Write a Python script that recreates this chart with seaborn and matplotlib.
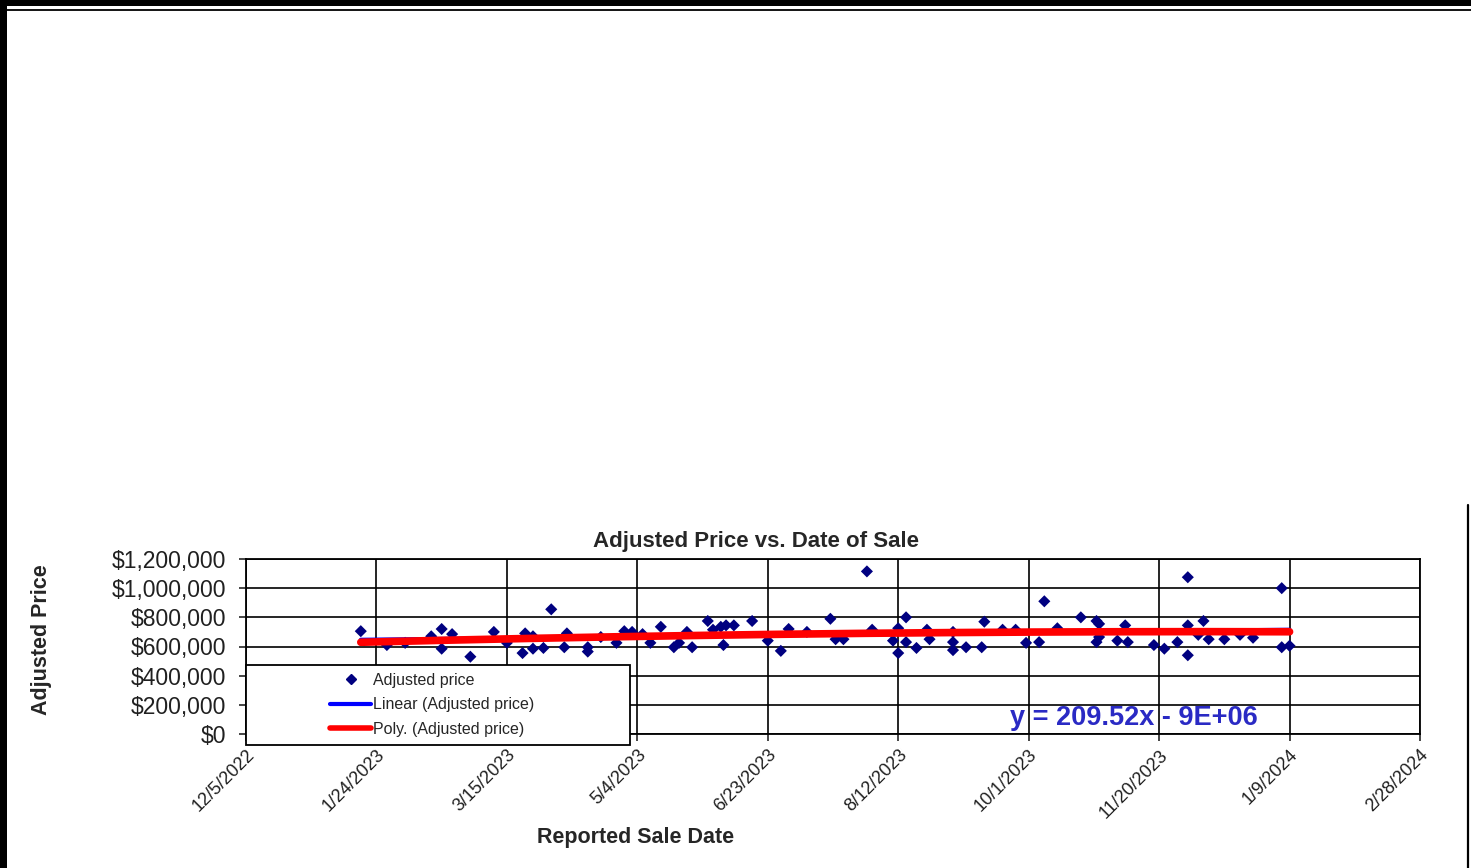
import numpy as np
import pandas as pd
import seaborn as sns
import matplotlib.pyplot as plt
import matplotlib.dates as mdates
from matplotlib.patches import Rectangle
from matplotlib.lines import Line2D
from matplotlib.ticker import FuncFormatter

# sale date / adjusted price
sale_dates = ['2023-01-18', '2023-01-28', '2023-02-04', '2023-02-14', '2023-02-18',
              '2023-02-18', '2023-02-22', '2023-03-01', '2023-03-10', '2023-03-15',
              '2023-03-21', '2023-03-22', '2023-03-25', '2023-03-25', '2023-03-29',
              '2023-04-01', '2023-04-07', '2023-04-06', '2023-04-15', '2023-04-15',
              '2023-04-20', '2023-04-26', '2023-04-29', '2023-05-02', '2023-05-06',
              '2023-05-09', '2023-05-13', '2023-05-18', '2023-05-20', '2023-05-23',
              '2023-05-25', '2023-05-31', '2023-06-02', '2023-06-05', '2023-06-06',
              '2023-06-07', '2023-06-10', '2023-06-17', '2023-06-23', '2023-06-28',
              '2023-07-01', '2023-07-08', '2023-07-17', '2023-07-19', '2023-07-22',
              '2023-07-31', '2023-08-02', '2023-08-10', '2023-08-12', '2023-08-12',
              '2023-08-15', '2023-08-15', '2023-08-19', '2023-08-23', '2023-08-24',
              '2023-09-02', '2023-09-02', '2023-09-02', '2023-09-07', '2023-09-13',
              '2023-09-14', '2023-09-21', '2023-09-26', '2023-09-30', '2023-10-05',
              '2023-10-07', '2023-10-12', '2023-10-21', '2023-10-27', '2023-10-28',
              '2023-10-27', '2023-10-28', '2023-11-04', '2023-11-07', '2023-11-08',
              '2023-11-18', '2023-11-22', '2023-11-27', '2023-12-01', '2023-12-01',
              '2023-12-01', '2023-12-05', '2023-12-07', '2023-12-09', '2023-12-15',
              '2023-12-21', '2023-12-26', '2024-01-06', '2024-01-06', '2024-01-09']

adjusted_prices = [705000, 610000, 625000, 670000, 720000,
                   585000, 685000, 530000, 700000, 625000,
                   555000, 690000, 670000, 585000, 590000,
                   855000, 690000, 595000, 595000, 565000,
                   665000, 625000, 705000, 700000, 685000,
                   625000, 735000, 595000, 625000, 700000,
                   595000, 775000, 715000, 735000, 610000,
                   745000, 745000, 775000, 640000, 570000,
                   720000, 700000, 790000, 650000, 650000,
                   1115000, 715000, 640000, 725000, 555000,
                   800000, 630000, 590000, 715000, 650000,
                   700000, 630000, 575000, 595000, 595000,
                   770000, 715000, 715000, 625000, 630000,
                   910000, 725000, 800000, 775000, 755000,
                   630000, 665000, 640000, 745000, 630000,
                   610000, 585000, 630000, 1075000, 745000,
                   540000, 680000, 775000, 650000, 650000,
                   680000, 660000, 1000000, 595000, 605000]

tick_dates = pd.date_range('2022-12-05', periods=10, freq='50D')
price_ticks = [0, 200000, 400000, 600000, 800000, 1000000, 1200000]
equation_text = 'y = 209.52x - 9E+06'

df = pd.DataFrame({'date': pd.to_datetime(sale_dates), 'price': adjusted_prices})

sns.set_style('white')
plt.rcParams['font.family'] = ['Liberation Sans', 'DejaVu Sans']

W, H = 1471, 868
fig = plt.figure(figsize=(W / 100, H / 100), dpi=100)
ax = fig.add_axes([246 / W, 134 / H, 1174 / W, 175 / H])

# trend lines (linear and 2nd order poly) fitted on the points
xnum = mdates.date2num(df['date'])
xs = np.linspace(xnum.min(), xnum.max(), 200)
lin = np.polyval(np.polyfit(xnum, df['price'], 1), xs)
poly = np.polyval(np.polyfit(xnum, df['price'], 2), xs)

sns.scatterplot(data=df, x='date', y='price', marker='D', s=38, color='#000080',
                edgecolor='none', ax=ax, zorder=3)
ax.plot(mdates.num2date(xs), lin, color='#0000ff', lw=3, zorder=4)
ax.plot(mdates.num2date(xs), poly, color='#ff0000', lw=5.5, zorder=5)

ax.set_xlim(tick_dates[0], tick_dates[-1])
ax.set_ylim(0, 1200000)
ax.set_xticks(tick_dates)
ax.set_xticklabels([f'{d.month}/{d.day}/{d.year}' for d in tick_dates],
                   rotation=45, ha='right', rotation_mode='anchor', fontsize=13)
ax.set_yticks(price_ticks)
ax.yaxis.set_major_formatter(FuncFormatter(lambda v, p: f'${v:,.0f}'))
ax.tick_params(axis='y', labelsize=16.5, length=5, width=1.2, direction='out', left=True, pad=9)
ax.tick_params(axis='x', length=5, width=1.2, direction='out', bottom=True, pad=4)
for lab in ax.get_yticklabels() + ax.get_xticklabels():
    lab.set_color('#202020')

ax.grid(True, color='black', lw=1.2)
ax.set_axisbelow(True)
for sp in ax.spines.values():
    sp.set_color('black')
    sp.set_linewidth(1.3)

ax.set_title('Adjusted Price vs. Date of Sale', fontsize=16, fontweight='bold', x=0.434, pad=9)
ax.set_ylabel('Adjusted Price', fontsize=15.5, fontweight='bold')
ax.yaxis.set_label_coords(-0.165, 0.54)
ax.set_xlabel('Reported Sale Date', fontsize=15.5, fontweight='bold')
ax.xaxis.set_label_coords(0.332, -0.53)

ax.text(0.651, 0.09, equation_text, transform=ax.transAxes, color='#2a2ac4',
        fontsize=19.5, fontweight='bold', va='center', ha='left', zorder=6)

# legend box overlapping the lower-left of the plot
fig.add_artist(Rectangle((246 / W, 1 - 745 / H), 384 / W, 80 / H, transform=fig.transFigure,
                         facecolor='white', edgecolor='black', lw=1.3, zorder=3))
handles = [Line2D([], [], marker='D', ls='', color='#000080', markersize=5),
           Line2D([], [], color='#0000ff', lw=3),
           Line2D([], [], color='#ff0000', lw=4)]
labels = ['Adjusted price', 'Linear (Adjusted price)', 'Poly. (Adjusted price)']
fig.legend(handles, labels, loc='center', bbox_to_anchor=(432 / W, 1 - 705 / H),
           frameon=False, fontsize=11.5, handlelength=2.6, handletextpad=0.1,
           labelspacing=0.6)

# outer frame of the screenshot
fig.add_artist(Rectangle((0, 1 - 6 / H), 1, 6 / H, transform=fig.transFigure,
                         color='black', lw=0))
fig.add_artist(Rectangle((0, 0), 7 / W, 1, transform=fig.transFigure, color='black', lw=0))
fig.add_artist(Line2D([0, 1], [1 - 9.5 / H] * 2, transform=fig.transFigure, color='black', lw=1.3))
fig.add_artist(Line2D([1468 / W] * 2, [0, 1 - 505 / H], transform=fig.transFigure,
                      color='black', lw=1.6))

fig.savefig('out.png', dpi=100, facecolor='white')
